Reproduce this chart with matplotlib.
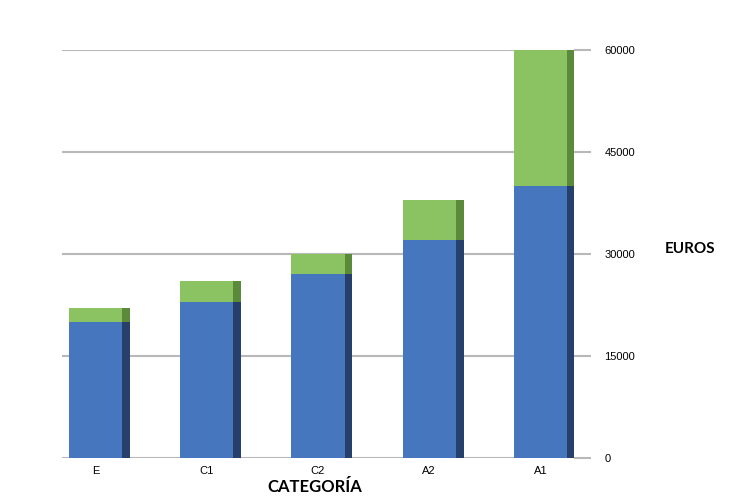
import numpy as np
import matplotlib

matplotlib.use("Agg")
from matplotlib import pyplot as plt

# data
categories = ["E", "C1", "C2", "A2", "A1"]
base = [20000, 23000, 27000, 32000, 40000]
extra = [2000, 3000, 3000, 6000, 20000]
ticks = [0, 15000, 30000, 45000, 60000]

blue, blue_side = "#4677be", "#26406b"
green, green_side = "#8cc362", "#5b8a3a"

fig = plt.figure(figsize=(7.5, 5), dpi=100)
ax = fig.add_axes([0.083, 0.084, 0.682, 0.816])

x = np.arange(len(categories))
w = 0.48
side = 0.07

# front faces
ax.bar(x, base, width=w, color=blue, zorder=3)
ax.bar(x, extra, width=w, bottom=base, color=green, zorder=3)
# darker right side to fake depth
ax.bar(x + w / 2, base, width=side, align="edge", color=blue_side, zorder=3)
ax.bar(x + w / 2, extra, width=side, bottom=base, align="edge",
       color=green_side, zorder=3)

ax.set_xlim(-0.3, 4.3)
ax.set_ylim(0, 60000)
ax.set_xticks(x)
ax.set_xticklabels(categories, fontsize=8, family="Liberation Sans")
ax.tick_params(axis="x", length=0, pad=6)

ax.yaxis.tick_right()
ax.set_yticks(ticks)
ax.set_yticklabels([str(t) for t in ticks], fontsize=8, family="Liberation Sans")
ax.tick_params(axis="y", length=12, width=1.5, color="#b8b8b8", pad=10)
ax.grid(axis="y", color="#b8b8b8", linewidth=1.5, zorder=0)

for s in ax.spines.values():
    s.set_visible(False)

fig.text(0.92, 0.502, "EUROS", fontsize=11, fontweight="bold",
         family="Lato", ha="center", va="center")
fig.text(0.42, 0.025, "CATEGORÍA", fontsize=12, fontweight="bold",
         family="Lato", ha="center", va="center")

fig.savefig("out.png", dpi=100)
